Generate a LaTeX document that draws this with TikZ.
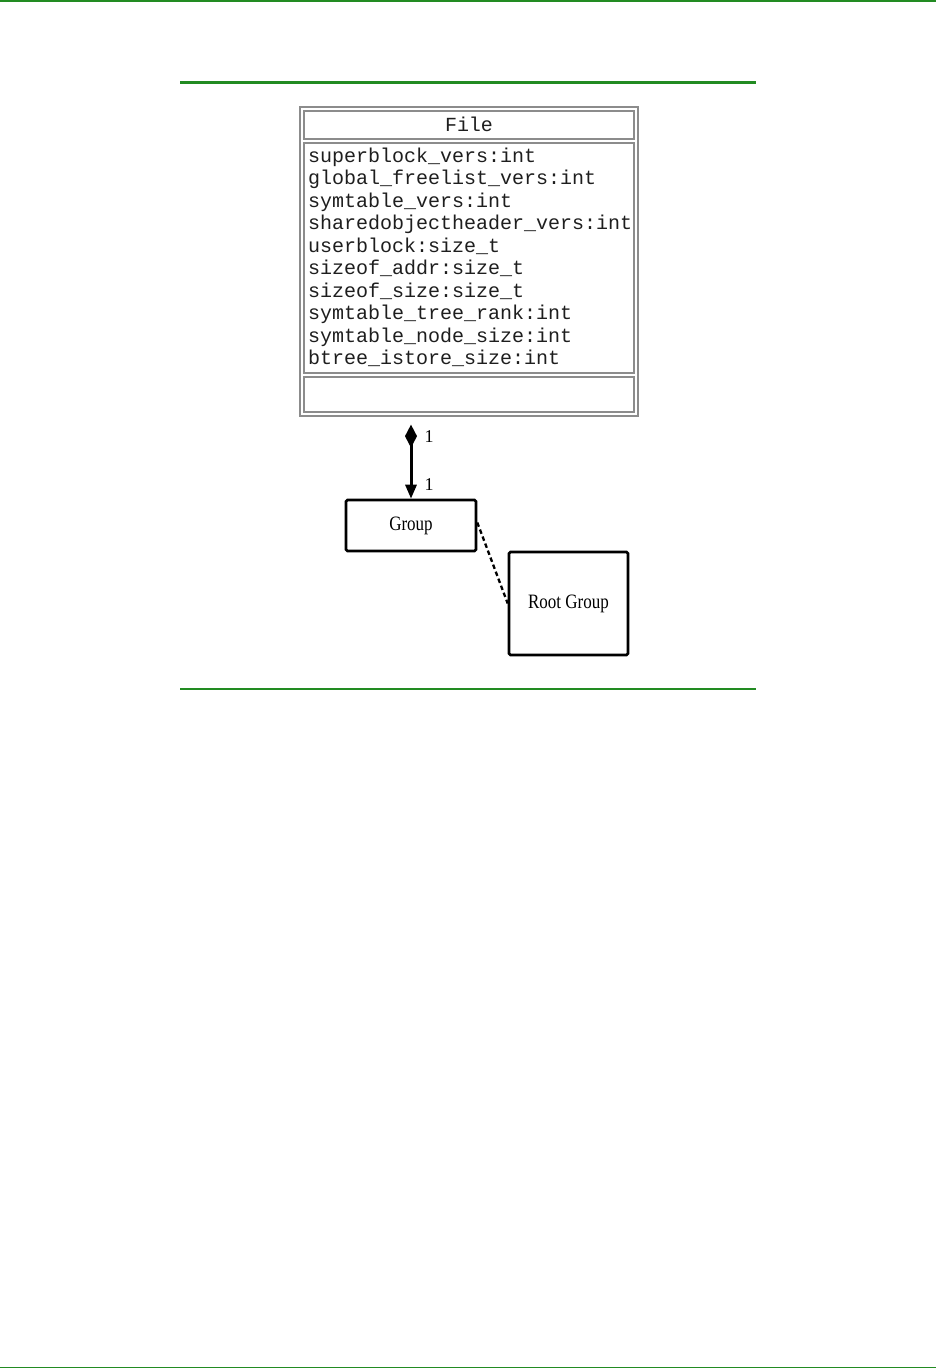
\documentclass[tikz,border=0pt]{standalone}
\usepackage{fontspec}
\setmainfont{Liberation Serif}
\setmonofont{Liberation Mono}
\usetikzlibrary{arrows.meta}
\definecolor{rulegreen}{HTML}{228B22}
\definecolor{boxgray}{HTML}{8C8C8C}
\definecolor{txtgray}{HTML}{1E1E1E}
\begin{document}
\begin{tikzpicture}[x=1pt,y=-1pt,
  greenrule/.style={draw=rulegreen},
  umlpart/.style={draw=boxgray, line width=1.3pt, rectangle, inner sep=0pt, minimum width=330pt},
  attr/.style={anchor=base west, inner sep=0pt, text=txtgray, font=\fontsize{20pt}{22.5pt}\ttfamily},
  classbox/.style={draw=black, line width=2.6pt, rounded corners=1.5pt, rectangle, inner sep=0pt, font=\fontsize{17pt}{20pt}\selectfont},
  mult/.style={inner sep=0pt, font=\fontsize{18pt}{20pt}\selectfont}
]
\useasboundingbox (0,0) rectangle (936,1369);
% page rules
\draw[greenrule, line width=1.5pt] (0,0.75) -- (936,0.75);
\draw[greenrule, line width=3pt] (180,82) -- (756,82);
\draw[greenrule, line width=2pt] (180,689) -- (756,689);
\draw[greenrule, line width=1.5pt] (0,1367.5) -- (936,1367.5);
% File class
\node[draw=boxgray, line width=1.3pt, rectangle, minimum width=338pt, minimum height=309pt, inner sep=0pt] (file) at (469,261.5) {};
\node[umlpart, minimum height=28pt] (fhead) at (469,125) {};
\node[umlpart, minimum height=230pt] (fattr) at (469,258) {};
\node[umlpart, minimum height=35pt] (fops) at (469,394.5) {};
\node[attr, anchor=base] (ftitle) at (469,131) {File};
\foreach \t [count=\i] in {superblock\_vers:int, global\_freelist\_vers:int, symtable\_vers:int, sharedobjectheader\_vers:int, userblock:size\_t, sizeof\_addr:size\_t, sizeof\_size:size\_t, symtable\_tree\_rank:int, symtable\_node\_size:int, btree\_istore\_size:int}
  \node[attr] (a\i) at (308,{139.5+22.5*\i}) {\t};
% Group and Root Group
\node[classbox, minimum width=130pt, minimum height=51pt] (group) at (411,525.5) {\scalebox{1}[1.2]{Group}};
\node[classbox, minimum width=119pt, minimum height=103pt] (root) at (568.5,603.5) {\scalebox{1}[1.2]{Root Group}};
% composition
\draw[line width=3pt, shorten <=8pt, {Diamond[length=23pt,width=12pt]}-{Triangle[length=14pt,width=11pt]}] (group.north |- file.south) -- (group.north);
\node[mult] (m1) at (429,437) {1};
\node[mult] (m2) at (429,485) {1};
% dashed link
\draw[line width=2.3pt, dash pattern=on 4.5pt off 3pt] ([yshift=3pt]group.east) -- (root.west);
\end{tikzpicture}
\end{document}
